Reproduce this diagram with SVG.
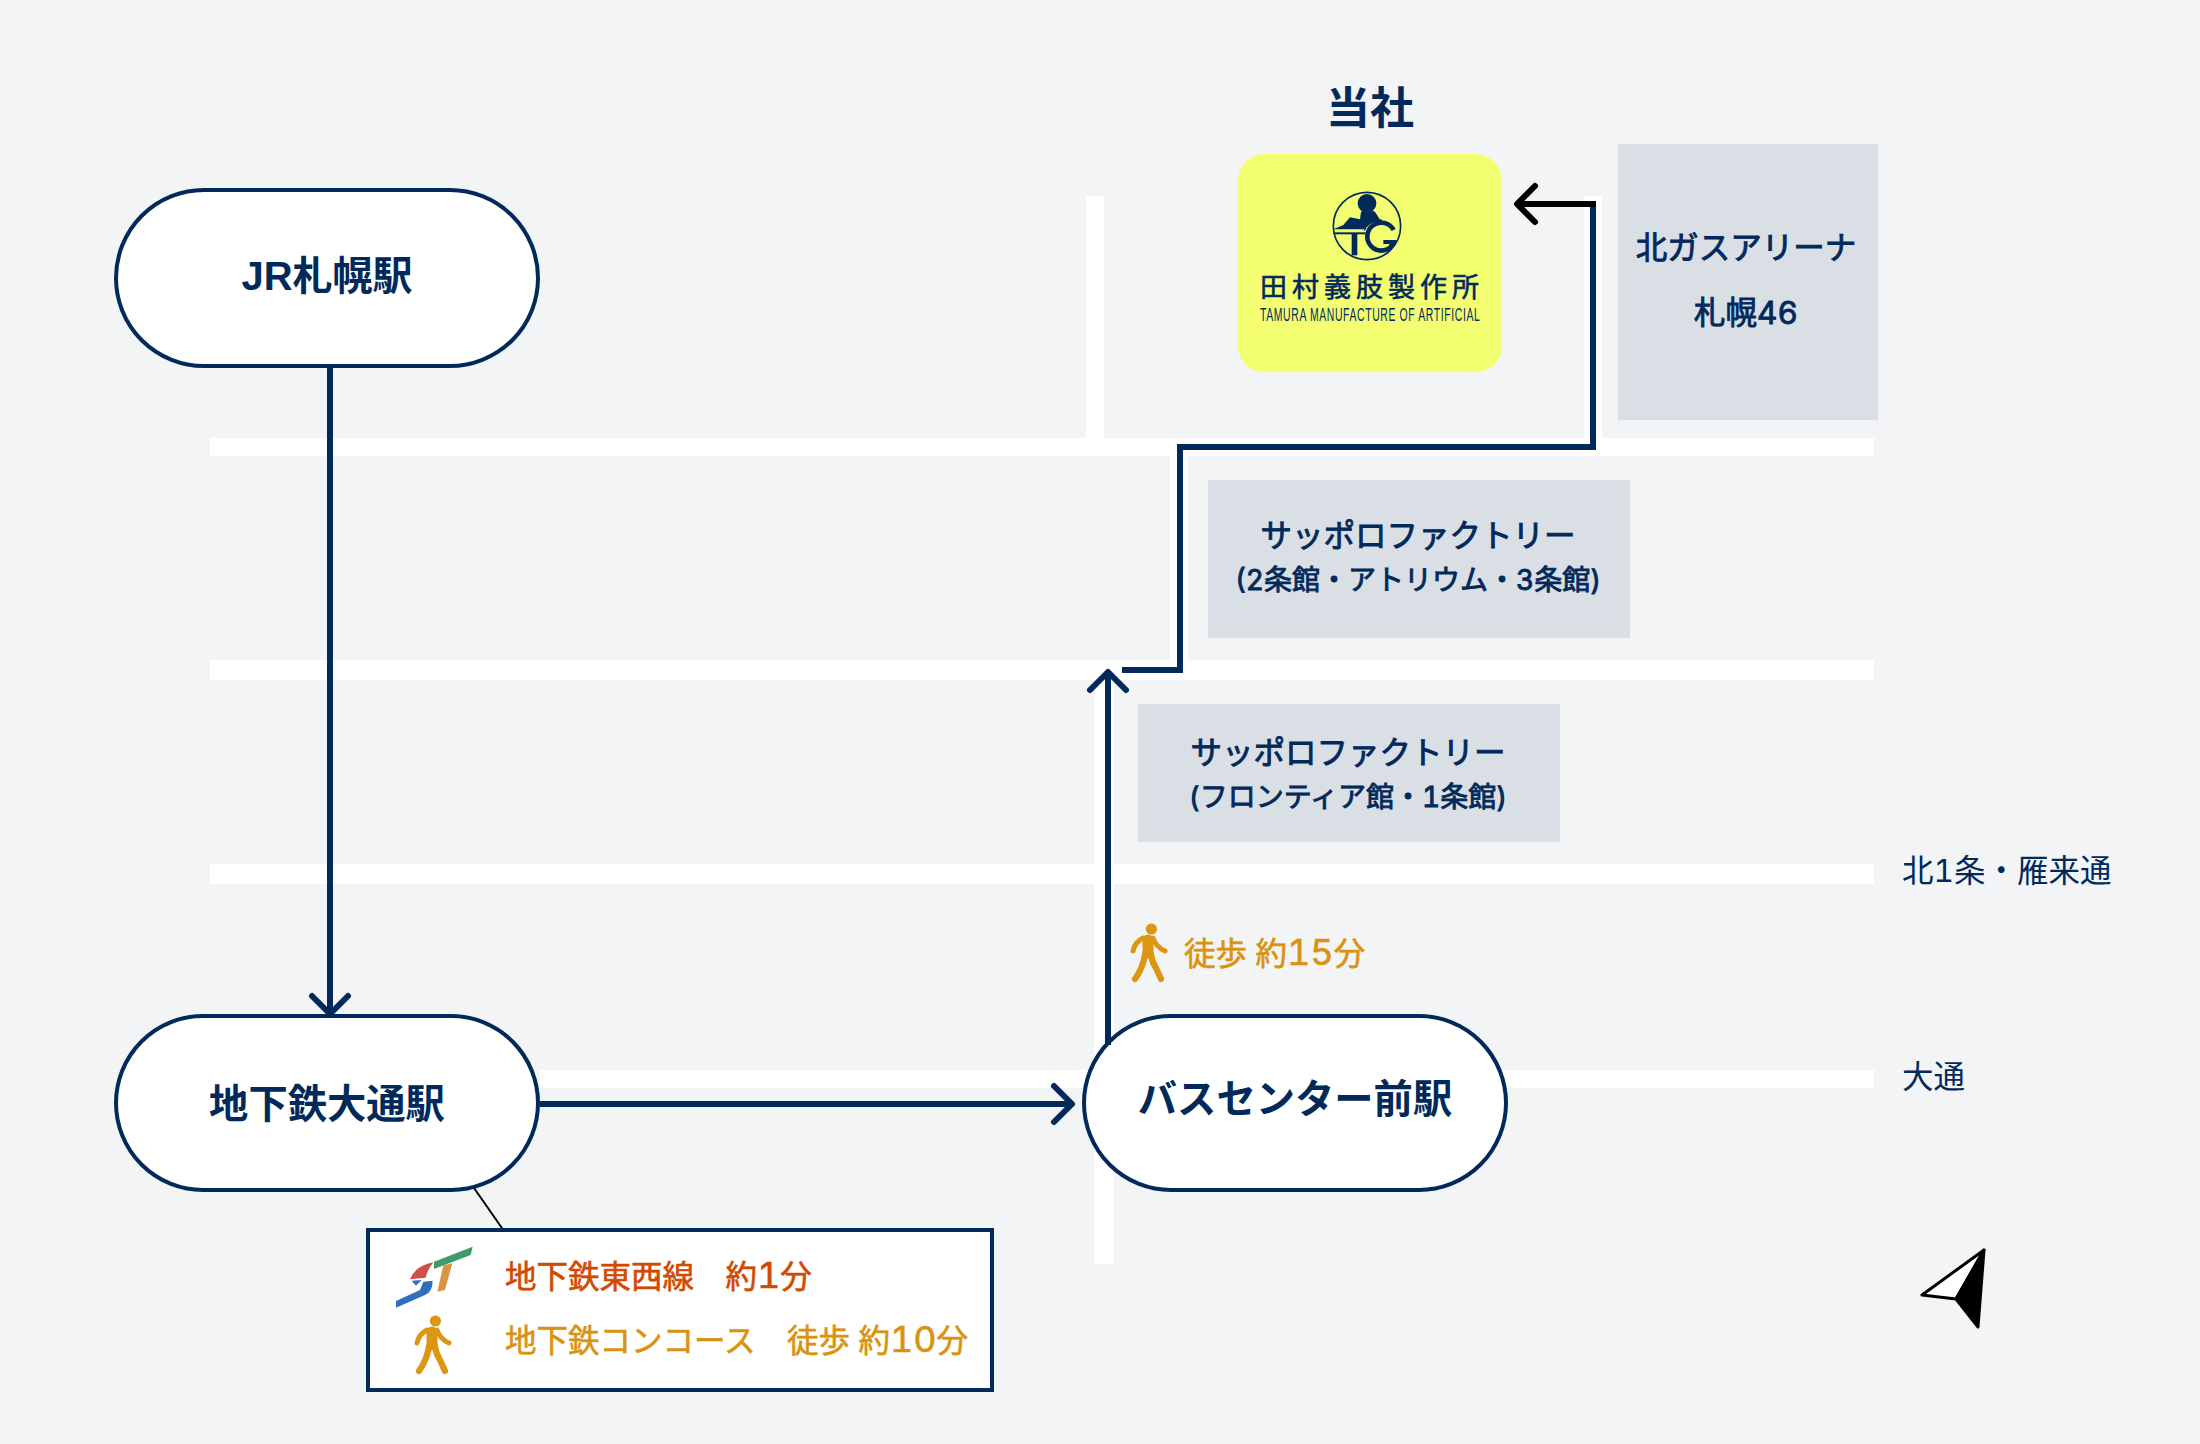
<svg xmlns="http://www.w3.org/2000/svg" xmlns:xlink="http://www.w3.org/1999/xlink" width="2200" height="1444" viewBox="0 0 2200 1444">
<style>
text{font-family:"Inter","Liberation Sans","Noto Sans CJK JP",sans-serif;fill:#012a5b;font-feature-settings:"tnum"}
.b{font-weight:700}
.m{stroke-width:.6px;stroke:#012a5b}
.ml{stroke-width:.9px;stroke:#012a5b}
.f31{font-size:31.5px}
.f28{font-size:28px}
.f39{font-size:39.3px}
.d{font-size:36px}
.od{fill:#d9930f;stroke:#d9930f;stroke-width:.6px}
.rd{fill:#d14a00;stroke:#d14a00;stroke-width:.6px}
.road{fill:#fff}
.bld{fill:#dadfe6}
.st{fill:#fff;stroke:#012a5b;stroke-width:4}
.ln{fill:none;stroke:#012a5b;stroke-width:6}
.hd{fill:none;stroke-width:6;stroke-linecap:round;stroke-linejoin:round}
</style>
<defs>
<marker id="aN" markerUnits="userSpaceOnUse" orient="auto" overflow="visible" markerWidth="50" markerHeight="50" refX="0" refY="0"><path class="hd" stroke="#012a5b" d="M-18,-18L0,0L-18,18"/></marker>
<marker id="aK" markerUnits="userSpaceOnUse" orient="auto" overflow="visible" markerWidth="50" markerHeight="50" refX="0" refY="0"><path class="hd" stroke="#000" d="M-18,-18L0,0L-18,18"/></marker>
<symbol id="walker" overflow="visible" width="38" height="58" viewBox="0 0 38 58">
<circle cx="21.4" cy="5" r="5.6" fill="#dc9612"/>
<path fill="none" stroke="#dc9612" stroke-linecap="round" stroke-width="5" d="M13,14Q5,18 3,27M23,14Q26,23 35,27"/>
<path fill="none" stroke="#dc9612" stroke-linecap="round" stroke-width="11" d="M18,16L18,29"/>
<path fill="none" stroke="#dc9612" stroke-linecap="round" stroke-width="6.2" d="M15,30Q13,44 5,55M21,30Q22,38 26,44L31,55"/>
</symbol>
</defs>
<rect width="2200" height="1444" fill="#f3f4f6"/>
<g id="roads">
<rect class="road" x="210" y="438" width="1664" height="18"/>
<rect class="road" x="210" y="660" width="1664" height="20"/>
<rect class="road" x="210" y="864" width="1664" height="20"/>
<rect class="road" x="540" y="1070" width="1334" height="18"/>
<rect class="road" x="1086" y="196" width="18" height="242"/>
<rect class="road" x="1584" y="196" width="18" height="242"/>
<rect class="road" x="1170" y="456" width="18" height="204"/>
<rect class="road" x="1094" y="680" width="20" height="584"/>
</g>
<g id="road-labels">
<text id="label-kita1" class="f31" x="1902" y="882">北1条・雁来通</text>
<text id="label-odori" class="f31" x="1902" y="1088">大通</text>
</g>
<g id="bld-arena"><rect class="bld" x="1618" y="144" width="260" height="276"/>
<text class="f31 ml" x="1746" y="259" text-anchor="middle">北ガスアリーナ</text>
<text class="f31 ml" x="1746" y="324" text-anchor="middle">札幌46</text></g>
<g id="bld-factory2"><rect class="bld" x="1208" y="480" width="422" height="158"/>
<text class="f31 ml" x="1418" y="547" text-anchor="middle">サッポロファクトリー</text>
<text class="f28 ml" x="1418" y="590" text-anchor="middle">(2条館・アトリウム・3条館)</text></g>
<g id="bld-factory1"><rect class="bld" x="1138" y="704" width="422" height="138"/>
<text class="f31 ml" x="1348" y="764" text-anchor="middle">サッポロファクトリー</text>
<text class="f28 ml" x="1348" y="807" text-anchor="middle">(フロンティア館・1条館)</text></g>
<g id="company">
<text class="b" font-size="44" x="1370" y="124" text-anchor="middle">当社</text>
<rect x="1238" y="154" width="264" height="218" rx="26" fill="#f3ff70"/>
<g transform="translate(1235 180) scale(.3333)" fill="#012a5b">
<circle cx="396" cy="138" r="101" fill="none" stroke="#012a5b" stroke-width="5"/>
<circle cx="396" cy="70" r="28"/>
<path d="M295,148L325,135L345,112L375,118L378,95Q400,85 420,95L437,122Q400,125 388,148Z"/>
<path d="M298,157H392V163H298Z"/>
<path d="M350,160H367V226H350Z"/>
<path d="M476,150A42,42 0 1 0 470,198" fill="none" stroke="#012a5b" stroke-width="14"/>
<path d="M445,180H485Q483,196 470,204L462,192H445Z"/>
<path d="M388,152Q398,122 440,120" fill="none" stroke="#012a5b" stroke-width="4"/>
</g>
<text font-size="27" class="m" x="1260" y="297" textLength="219" lengthAdjust="spacing">田村義肢製作所</text>
<text font-size="18" transform="translate(1260 321) scale(.58 1)" x="0" y="0" textLength="379" lengthAdjust="spacing" style='font-family:"Liberation Sans",sans-serif'>TAMURA MANUFACTURE OF ARTIFICIAL</text>
</g>
<g id="node-jr"><rect class="st" x="116" y="190" width="422" height="176" rx="88"/>
<text class="b" font-size="40" x="327" y="290" text-anchor="middle" style='font-family:"Liberation Sans","Noto Sans CJK JP",sans-serif'>JR札幌駅</text></g>
<g id="node-odori"><rect class="st" x="116" y="1016" width="422" height="174" rx="87"/>
<text class="f39 b" x="327" y="1118" text-anchor="middle">地下鉄大通駅</text></g>
<g id="node-bus"><rect class="st" x="1084" y="1016" width="422" height="174" rx="87"/>
<text class="f39 b" x="1295" y="1113" text-anchor="middle">バスセンター前駅</text></g>
<g id="connectors">
<path class="ln" marker-end="url(#aN)" d="M330,366V1014"/>
<path class="ln" marker-end="url(#aN)" d="M540,1104H1072"/>
<path class="ln" marker-end="url(#aN)" d="M1108,1045V672"/>
<path class="ln" d="M1122,670H1180V447H1593V204"/>
<path fill="none" stroke="#000" stroke-width="6" marker-end="url(#aK)" d="M1596,204H1517"/>
<path fill="none" stroke="#000" stroke-width="2" d="M474,1188L504,1231"/>
</g>
<g id="walk-15">
<use href="#walker" x="1130" y="924" width="38" height="58"/>
<text class="f31 od" x="1184" y="965">徒歩 約<tspan class="d">15</tspan>分</text>
</g>
<g id="legend">
<rect x="368" y="1230" width="624" height="160" fill="#fff" stroke="#012a5b" stroke-width="4"/>
<g transform="translate(390 1240) scale(.3333)">
<path fill="#3f9b6b" d="M132,65L248,20L242,45L132,87Z"/>
<path fill="#d9963f" d="M160,76L187,70L165,150L142,155Z"/>
<path fill="#d0504a" d="M130,67Q75,78 60,118L107,113Q112,90 130,67Z"/>
<path fill="#2f6fc0" d="M65,122L95,120L78,137Z"/>
<path fill="#2f6fc0" d="M18,183L90,150L100,125L128,122Q128,155 105,165L18,203Z"/>
</g>
<text class="f31 rd" x="505" y="1288" xml:space="preserve">地下鉄東西線　約<tspan class="d">1</tspan>分</text>
<use href="#walker" x="414" y="1316" width="38" height="58"/>
<text class="f31 od" x="505" y="1352" xml:space="preserve">地下鉄コンコース　徒歩 約<tspan class="d">10</tspan>分</text>
</g>
<g id="north-arrow" stroke="#000" stroke-width="3" stroke-linejoin="round">
<path fill="#fff" d="M1984,1250L1922,1295L1956,1299Z"/>
<path fill="#000" d="M1984,1250L1956,1299L1978,1327Z"/>
</g>
</svg>
